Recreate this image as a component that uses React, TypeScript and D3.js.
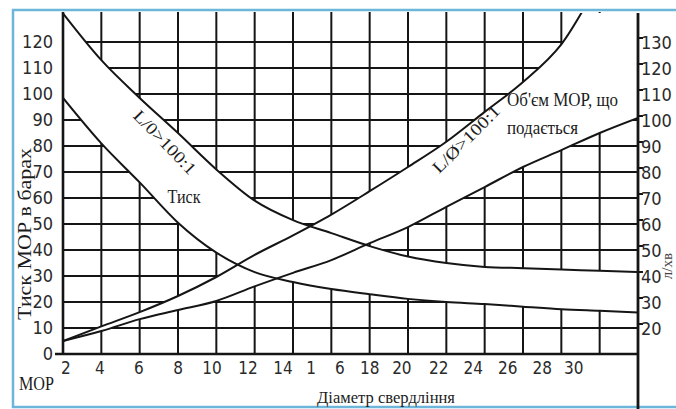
import React from "react";
import * as d3 from "d3";

// drill diameter (mm) where the curves were read
const diam = [2, 4, 6, 8, 10, 12, 14, 16, 18, 20, 22, 24, 26, 28, 30, 32];
// pressure band, bar (left axis)
const pressureHigh = [131, 113, 98.5, 85, 71, 59, 51.5, 46.5, 41.5, 37.5, 35, 33.5, 33, 32.5, 32, 31.5];
const pressureLow = [98.5, 81, 66, 50.5, 39, 31.5, 27.7, 25, 23, 21.2, 20, 19.2, 18.2, 17.2, 16.6, 16];
// coolant flow band, l/min (right axis)
const flowHigh = [15.4, 21, 26.5, 32.7, 40, 48.5, 56, 64, 73, 82.3, 92, 103.5, 115, 129.5, 153, 172];
const flowLow = [15.4, 19.2, 23.8, 27.3, 30.8, 36.4, 41.6, 46.5, 53, 59.2, 67, 74.6, 82.3, 88.8, 95.4, 101.2];

const leftTicks = [0, 10, 20, 30, 40, 50, 60, 70, 80, 90, 100, 110, 120];
const rightTicks = [20, 30, 40, 50, 60, 70, 80, 90, 100, 110, 120, 130];
const xGrid = [2, 4, 6, 8, 10, 12, 14, 16, 18, 20, 22, 24, 26, 28, 30, 32];
// the printed labels do not sit exactly on the grid in the source
const xLabels = ["2", "4", "6", "8", "10", "12", "14", "1", "6", "18", "20", "22", "24", "26", "28", "30"];
const xLabelAt = [2.15, 3.93, 5.96, 8, 9.77, 11.65, 13.48, 14.94, 16.45, 18, 19.68, 21.6, 23.4, 25.2, 27, 28.65];

const W = 676;
const H = 409;
const left = 63, right = 638, top = 13, bottom = 354;

const sansNarrow = "'Liberation Sans Narrow', 'DejaVu Sans Condensed', sans-serif";
const serif = "'Liberation Serif', 'DejaVu Serif', serif";

export default function App() {
  const x = d3.scaleLinear().domain([2, 32]).range([left, right]);
  const yL = d3.scaleLinear().domain([0, 130]).range([bottom, 16]);
  const yR = d3.scaleLinear().domain([20, 130]).range([329, 43]);

  const pts = diam.map((d, i) => ({
    d,
    pH: pressureHigh[i],
    pL: pressureLow[i],
    fH: flowHigh[i],
    fL: flowLow[i],
  }));

  const curve = d3.curveMonotoneX;
  const pressureArea = d3.area<any>().x(p => x(p.d)).y0(p => yL(p.pL)).y1(p => yL(p.pH)).curve(curve);
  const flowArea = d3.area<any>().x(p => x(p.d)).y0(p => yR(p.fL)).y1(p => yR(p.fH)).curve(curve);
  const line = (f: (p: any) => number) => d3.line<any>().x(p => x(p.d)).y(f).curve(curve)(pts) || "";

  const ink = "#151515";

  return (
    <svg width={W} height={H} style={{ position: "absolute", left: 0, top: 0, background: "#fff" }}>
      <defs>
        <clipPath id="plot">
          <rect x={left} y={top} width={right - left} height={bottom - top} />
        </clipPath>
      </defs>

      {/* frame of the scan */}
      <rect x={13} y={10} width={720} height={397} fill="none" stroke="#6db5d9" strokeWidth={2.5} />

      {/* grid */}
      <g stroke={ink} strokeWidth={2}>
        {leftTicks.filter(t => t > 0).map(t => (
          <line key={"h" + t} x1={left} x2={right} y1={yL(t)} y2={yL(t)} />
        ))}
        {xGrid.slice(1, -1).map(v => (
          <line key={"v" + v} x1={x(v)} x2={x(v)} y1={12} y2={bottom} />
        ))}
      </g>

      {/* bands */}
      <g clipPath="url(#plot)">
        <path d={pressureArea(pts) || ""} fill="#fff" />
        <path d={flowArea(pts) || ""} fill="#fff" />
        <g fill="none" stroke={ink} strokeWidth={2}>
          <path d={line(p => yL(p.pH))} />
          <path d={line(p => yL(p.pL))} />
          <path d={line(p => yR(p.fH))} />
          <path d={line(p => yR(p.fL))} />
        </g>
      </g>

      {/* axes */}
      <line x1={left} x2={left} y1={12} y2={bottom + 1} stroke={ink} strokeWidth={2.6} />
      <line x1={right} x2={right} y1={13} y2={H} stroke={ink} strokeWidth={2.8} />
      <line x1={55} x2={right} y1={bottom} y2={bottom} stroke={ink} strokeWidth={2.6} />

      {/* left tick labels */}
      <g fontFamily={sansNarrow} fontSize={18} fill="#2a2a2a" textAnchor="end">
        {leftTicks.map(t => (
          <text key={t} x={53} y={yL(t)} dy="0.36em">{t}</text>
        ))}
      </g>

      {/* right tick labels */}
      <g fontFamily={sansNarrow} fontSize={18} fill="#2a2a2a">
        {rightTicks.map(t => (
          <g key={t}>
            <line x1={right} x2={right + 5} y1={yR(t) - 5} y2={yR(t) - 5} stroke={ink} strokeWidth={2} />
            <text x={641} y={yR(t)} dy="0.36em">{t}</text>
          </g>
        ))}
      </g>

      {/* bottom tick labels */}
      <g fontFamily={sansNarrow} fontSize={17} fill="#2a2a2a" textAnchor="middle">
        {xLabels.map((t, i) => (
          <text key={i} x={x(xLabelAt[i])} y={374}>{t}</text>
        ))}
      </g>

      {/* titles */}
      <g fontFamily={serif} fill="#1c1c1c">
        <text x={19} y={390} fontSize={19} textLength={35} lengthAdjust="spacingAndGlyphs">МОР</text>
        <text x={386} y={403} fontSize={17} textAnchor="middle" textLength={138} lengthAdjust="spacingAndGlyphs">Діаметр свердління</text>
        <text transform="translate(31,234) rotate(-90)" fontSize={19} textAnchor="middle" textLength={172} lengthAdjust="spacingAndGlyphs">Тиск МОР в барах</text>
        <text transform="translate(672,266) rotate(-90)" fontSize={15} textAnchor="middle" fill="#444">л/хв</text>
        <text x={184} y={203} fontSize={18} textAnchor="middle" textLength={33} lengthAdjust="spacingAndGlyphs">Тиск</text>
        <text x={507} y={106} fontSize={19} textLength={111} lengthAdjust="spacingAndGlyphs">Об'єм МОР, що</text>
        <text x={507} y={134} fontSize={18} textLength={71} lengthAdjust="spacingAndGlyphs">подається</text>
        <text transform="translate(165,142) rotate(46)" fontSize={17} textAnchor="middle" dy="0.35em" textLength={82} lengthAdjust="spacingAndGlyphs">L/0&gt;100:1</text>
        <text transform="translate(466,139) rotate(-45)" fontSize={17} textAnchor="middle" dy="0.35em" textLength={88} lengthAdjust="spacingAndGlyphs">L/Ø&gt;100:1</text>
      </g>
    </svg>
  );
}
